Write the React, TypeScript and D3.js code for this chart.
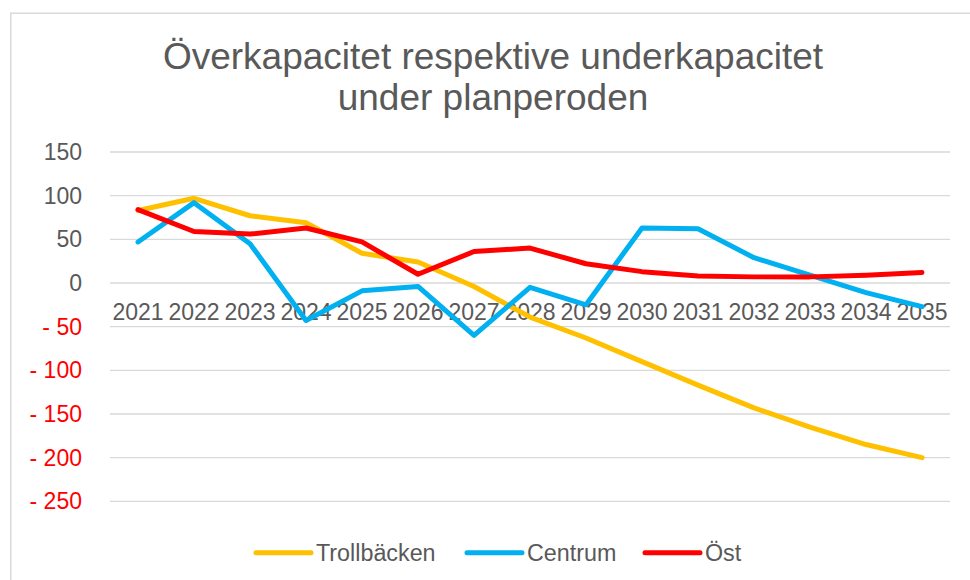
import React from "react";
import * as d3 from "d3";

const years = ["2021","2022","2023","2024","2025","2026","2027","2028","2029","2030","2031","2032","2033","2034","2035"];
const trollbacken = [83, 97, 77, 69, 34, 24, -4, -39, -63, -90, -117, -143, -165, -185, -200];
const centrum = [47, 92, 45, -43, -9, -4, -60, -5, -25, 63, 62, 29, 9, -11, -27];
const ost = [84, 59, 56, 63, 47, 10, 36, 40, 22, 13, 8, 7, 7, 9, 12];
const yTicks = [150, 100, 50, 0, -50, -100, -150, -200, -250];
const seriesNames = ["Trollbäcken", "Centrum", "Öst"];
const seriesColors = ["#FFC000", "#00B0F0", "#FF0000"];
const titleLines = ["Överkapacitet respektive underkapacitet", "under planperoden"];

const FONT = "'Liberation Sans', Arial, sans-serif";

export default function App() {
  const x = d3.scaleBand<string>().domain(years).range([110, 950]).padding(0);
  const y = d3.scaleLinear().domain([-250, 150]).range([501.3, 152]);
  const cx = (c: string) => (x(c) as number) + x.bandwidth() / 2;
  const line = d3
    .line<number>()
    .x((_, i) => cx(years[i]))
    .y((v) => y(v));
  const seriesData = [trollbacken, centrum, ost];
  const fmt = (v: number) => (v < 0 ? "- " + Math.abs(v) : String(v));
  const legendX = [256, 467, 645];

  return (
    <svg
      width={970}
      height={580}
      style={{ position: "absolute", left: 0, top: 0, background: "#fff" }}
      fontFamily={FONT}
    >
      <rect x={0} y={0} width={970} height={580} fill="#fff" />
      <rect x={10.75} y={13.25} width={1000} height={600} fill="none" stroke="#D9D9D9" strokeWidth={1.5} />
      {titleLines.map((t, i) => (
        <text key={i} x={493} y={69 + i * 41} textAnchor="middle" fontSize={37} fill="#595959">
          {t}
        </text>
      ))}
      {yTicks.map((v) => (
        <g key={v}>
          <line x1={110} x2={950} y1={y(v)} y2={y(v)} stroke="#D9D9D9" strokeWidth={1.3} />
          <text
            x={82}
            y={y(v)}
            dy="0.35em"
            textAnchor="end"
            fontSize={23}
            fill={v < 0 ? "#FF0000" : "#595959"}
          >
            {fmt(v)}
          </text>
        </g>
      ))}
      {years.map((c) => (
        <text key={c} x={cx(c)} y={320} textAnchor="middle" fontSize={23} fill="#595959">
          {c}
        </text>
      ))}
      {seriesData.map((d, i) => (
        <path
          key={i}
          d={line(d) || ""}
          fill="none"
          stroke={seriesColors[i]}
          strokeWidth={5}
          strokeLinejoin="round"
          strokeLinecap="round"
        />
      ))}
      {seriesNames.map((n, i) => (
        <g key={n}>
          <line
            x1={legendX[i]}
            x2={legendX[i] + 55}
            y1={552.7}
            y2={552.7}
            stroke={seriesColors[i]}
            strokeWidth={5}
            strokeLinecap="round"
          />
          <text x={legendX[i] + 60} y={561.3} fontSize={23.3} fill="#595959">
            {n}
          </text>
        </g>
      ))}
    </svg>
  );
}
